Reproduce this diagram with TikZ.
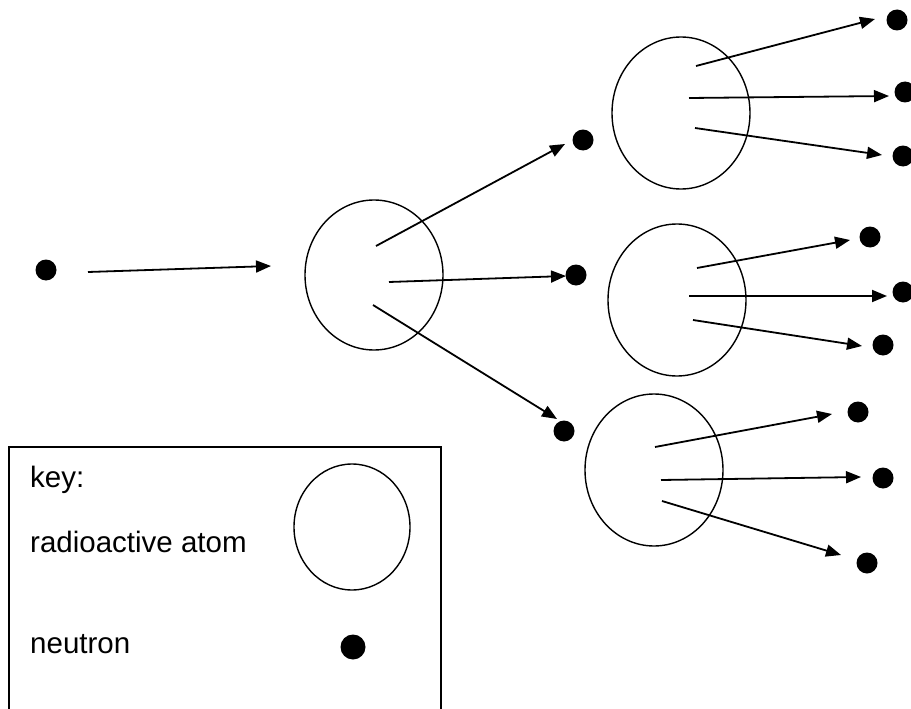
\documentclass[tikz,border=0pt]{standalone}
\usepackage{fontspec}
\setmainfont{Liberation Sans}
\usetikzlibrary{arrows.meta}
\begin{document}
\begin{tikzpicture}[x=1pt,y=-1pt,
  atom/.style={draw=black,line width=1.4pt},
  neutron/.style={circle,fill=black,inner sep=0pt,minimum size=21pt},
  ray/.style={line width=1.8pt,-{Triangle[length=15pt,width=12pt]}},
  keytext/.style={anchor=base west,inner sep=0pt,font=\fontsize{29.5}{35}\selectfont}]
\useasboundingbox (0,0) rectangle (911,709);
% atoms
\draw[atom] (374,275) ellipse [x radius=69, y radius=75];
\draw[atom] (681,113) ellipse [x radius=69, y radius=76];
\draw[atom] (677,300) ellipse [x radius=69, y radius=76];
\draw[atom] (654,470) ellipse [x radius=69, y radius=76];
% neutrons
\node[neutron] (n0) at (46,270) {};
\node[neutron] (n1) at (583,140) {};
\node[neutron] (n2) at (576,275) {};
\node[neutron] (n3) at (564,431) {};
\node[neutron] (n11) at (897,20) {};
\node[neutron] (n12) at (905,92) {};
\node[neutron] (n13) at (903,156) {};
\node[neutron] (n21) at (870,237) {};
\node[neutron] (n22) at (903,292) {};
\node[neutron] (n23) at (883,345) {};
\node[neutron] (n31) at (858,412) {};
\node[neutron] (n32) at (883,478) {};
\node[neutron] (n33) at (867,563) {};
% arrow coordinates
\coordinate (s0) at (88,272);  \coordinate (t0) at (271,266);
\coordinate (s1) at (376,246); \coordinate (t1) at (565,144);
\coordinate (s2) at (389,282); \coordinate (t2) at (566,276);
\coordinate (s3) at (373,305); \coordinate (t3) at (557,419);
\coordinate (s11) at (696,66); \coordinate (t11) at (875,19);
\coordinate (s12) at (689,98); \coordinate (t12) at (889,96);
\coordinate (s13) at (695,128); \coordinate (t13) at (882,155);
\coordinate (s21) at (697,268); \coordinate (t21) at (850,240);
\coordinate (s22) at (689,296); \coordinate (t22) at (887,296);
\coordinate (s23) at (693,320); \coordinate (t23) at (862,346);
\coordinate (s31) at (655,447); \coordinate (t31) at (832,414);
\coordinate (s32) at (661,480); \coordinate (t32) at (861,477);
\coordinate (s33) at (662,501); \coordinate (t33) at (841,555);
\foreach \k in {0,1,2,3,11,12,13,21,22,23,31,32,33}
  \draw[ray] (s\k) -- (t\k);
% key
\draw[line width=1.6pt] (9,715) -- (9,447) -- (441,447) -- (441,715);
\node[keytext] (k1) at (30,487) {key:};
\node[keytext] (k2) at (30,552) {radioactive atom};
\node[keytext] (k3) at (30,653) {neutron};
\draw[atom] (352,527) ellipse [x radius=58, y radius=63];
\node[neutron,minimum size=25pt] (kn) at (353,647) {};
\end{tikzpicture}
\end{document}
